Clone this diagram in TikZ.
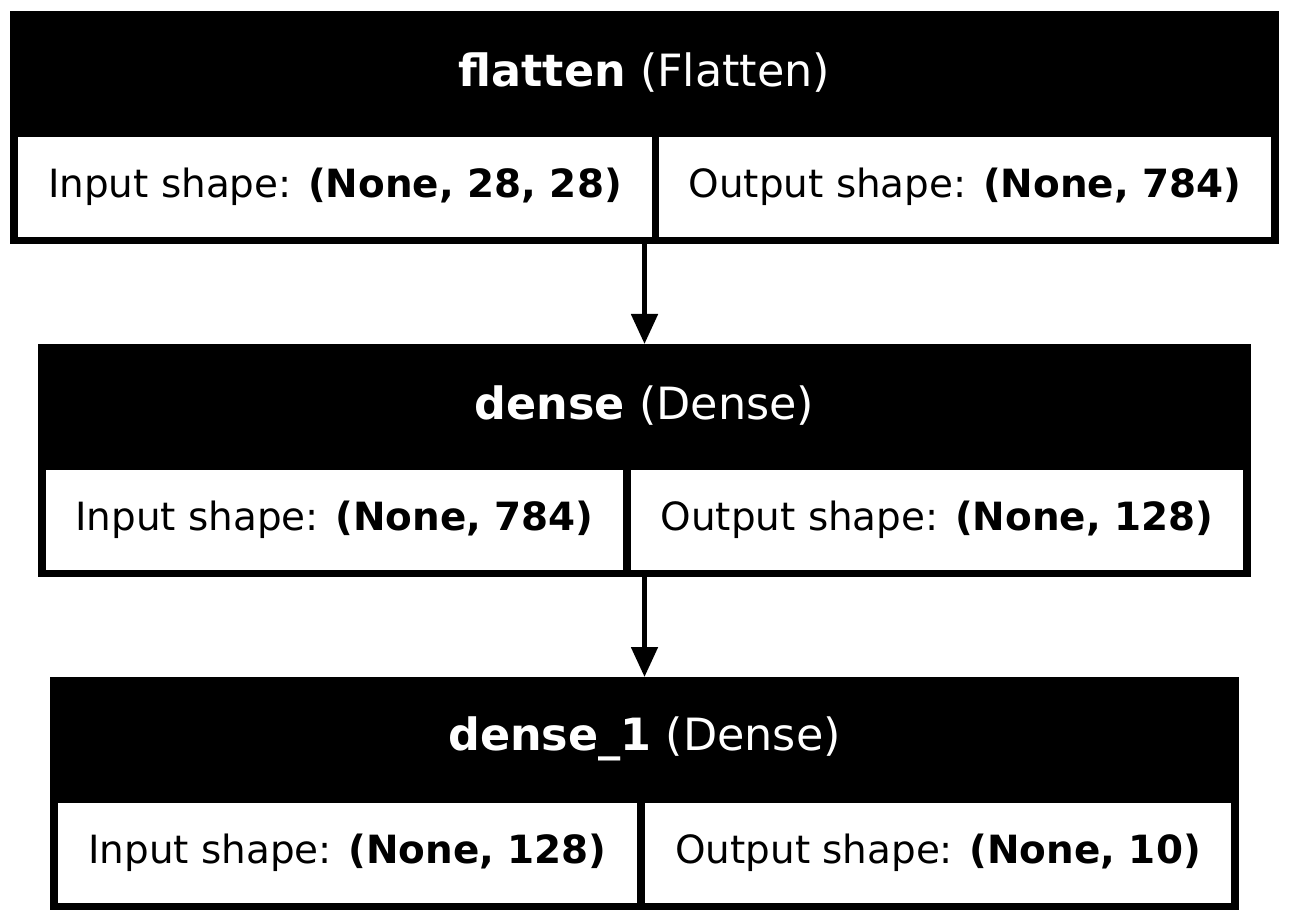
\documentclass[tikz,border=0pt]{standalone}
\usepackage{fontspec}
\setmainfont{DejaVu Sans}
\usepackage{tikz}
\usetikzlibrary{arrows.meta}
\newcommand{\gvpx}{0.36pt}

\begin{document}
\begin{tikzpicture}[x=\gvpx, y=-\gvpx, >={Triangle[length=30*\gvpx, width=26*\gvpx]},
      every node/.append style={inner sep=0pt, outer sep=0pt},
      layer/.style={rectangle, fill=black, anchor=north west, minimum height=233*\gvpx},
      shapecell/.style={rectangle, fill=white, anchor=north west, minimum height=100*\gvpx,
        font=\fontsize{14}{17}\selectfont},
      title/.style={text=white, font=\fontsize{16}{19}\selectfont},
      edge/.style={->, line width=5*\gvpx}]
    \useasboundingbox (0,0) rectangle (1289,922);
    \node (flatten) [layer, minimum width=1269*\gvpx] at (10,11) {};
    \node (flatten_title) [title] at (644.5,73) {\textbf{flatten} (Flatten)};
    \node (flatten_in) [shapecell, minimum width=634*\gvpx] at (18,137) {Input shape: \textbf{(None, 28, 28)}};
    \node (flatten_out) [shapecell, minimum width=612*\gvpx] at (659,137) {Output shape: \textbf{(None, 784)}};

    \node (dense) [layer, minimum width=1213*\gvpx] at (38,344) {};
    \node (dense_title) [title] at (644.5,406) {\textbf{dense} (Dense)};
    \node (dense_in) [shapecell, minimum width=577*\gvpx] at (46,470) {Input shape: \textbf{(None, 784)}};
    \node (dense_out) [shapecell, minimum width=612*\gvpx] at (631,470) {Output shape: \textbf{(None, 128)}};

    \node (dense_1) [layer, minimum width=1189*\gvpx] at (50,677) {};
    \node (dense_1_title) [title] at (644.5,739) {\textbf{dense\_1} (Dense)};
    \node (dense_1_in) [shapecell, minimum width=579*\gvpx] at (58,803) {Input shape: \textbf{(None, 128)}};
    \node (dense_1_out) [shapecell, minimum width=586*\gvpx] at (645,803) {Output shape: \textbf{(None, 10)}};

    \draw[edge] (flatten.south) -- (dense.north);
    \draw[edge] (dense.south) -- (dense_1.north);
\end{tikzpicture}
\end{document}
